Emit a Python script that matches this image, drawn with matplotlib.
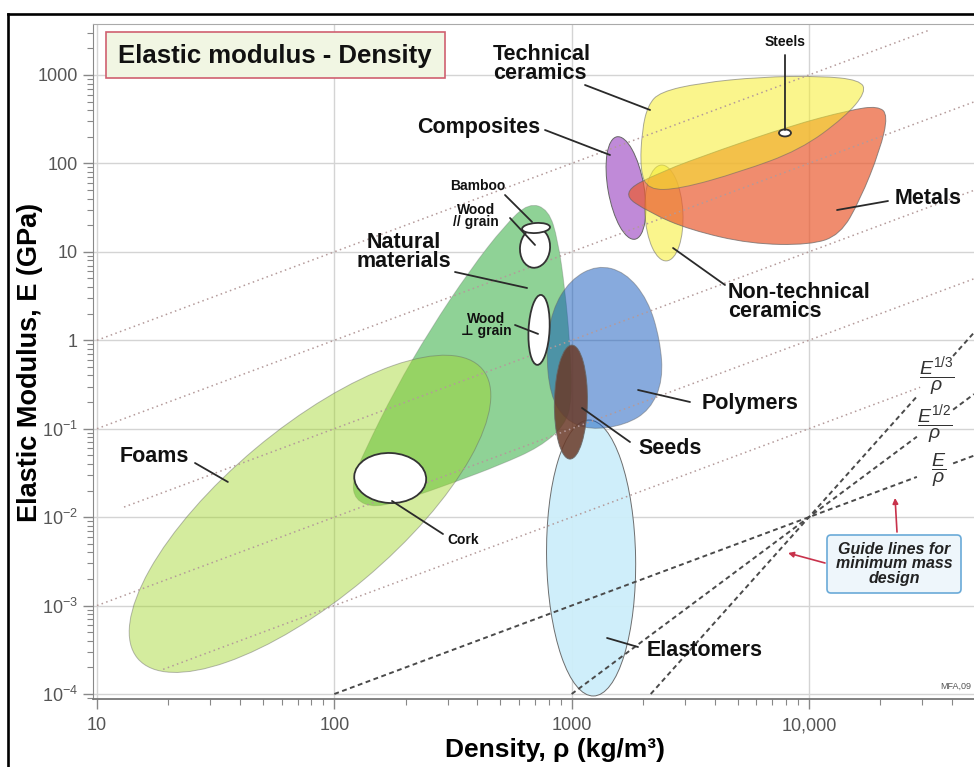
import matplotlib
matplotlib.use('Agg')
import matplotlib.pyplot as plt
import numpy as np
from matplotlib.path import Path
from matplotlib.patches import PathPatch, Ellipse, Rectangle, FancyBboxPatch
from matplotlib.lines import Line2D
from matplotlib.transforms import IdentityTransform
from matplotlib.ticker import FixedLocator, LogLocator, NullFormatter

plt.rcParams['font.family'] = ['Liberation Sans', 'DejaVu Sans']
plt.rcParams['mathtext.fontset'] = 'custom'
plt.rcParams['mathtext.rm'] = 'Liberation Sans'
plt.rcParams['mathtext.it'] = 'Liberation Sans:italic'
plt.rcParams['mathtext.bf'] = 'Liberation Sans:bold'

W, H = 974, 767

# ---- data: density rho (kg/m3), modulus E (GPa) ----
# elliptic families (centre of bubble)
ell_names = ['Foams', 'Elastomers', 'Seeds', 'Composites', 'Non-technical ceramics']
ell_rho = [79, 1208, 993, 1694, 2448]
ell_E = [0.0109, 3.45e-3, 0.200, 52.7, 27.5]

# white sub-families
white_names = ['Cork', 'Wood // grain', 'Bamboo', 'Wood ⊥ grain', 'Steels']
white_rho = [172, 701, 708, 729, 7925]
white_E = [0.0277, 11.1, 18.6, 1.31, 221]

# outlines of the irregular families
natural_rho = [660, 800, 876, 938, 985, 1004, 938, 736, 499, 323, 208, 149, 122, 119, 135, 180, 253, 373, 524]
natural_E = [36, 30, 13.6, 3.70, 0.885, 0.211, 0.110, 0.0621, 0.0389, 0.0250, 0.0165, 0.0127, 0.0156, 0.0263,
             0.0575, 0.274, 1.31, 6.24, 20.1]

polymer_rho = [1280, 1679, 2099, 2358, 2428, 2140, 1679, 1196, 938, 811, 780, 827, 985]
polymer_E = [7.10, 5.92, 2.86, 1.01, 0.356, 0.163, 0.110, 0.0967, 0.1255, 0.241, 0.777, 2.20, 4.81]

techcer_rho = [2358, 3477, 6221, 11140, 16420, 17400, 14190, 9174, 5124, 2862, 2099, 1943, 1980, 2099]
techcer_E = [642, 812, 949, 974, 878, 642, 335, 142, 80.0, 51.4, 50.1, 84.3, 239, 458]

metal_rho = [1600, 2358, 4221, 8326, 14900, 19560, 21540, 19940, 16420, 13530, 10110, 5647, 3155, 2140]
metal_E = [46.3, 80.0, 142, 265, 402, 446, 353, 142, 38.6, 15.5, 11.96, 12.3, 17.7, 27.5]

# guide lines E = c * rho (light dotted) and the minimum-mass lines through (1e4, 0.01)
dotted_c = [0.1, 0.01, 1e-3, 1e-4, 1e-5]
dotted_start = [10, 10, 13, 10, 19]
dotted_end = [31800, 49600, 49600, 49600, 29400]
guide_slope = [1, 2, 3]
guide_start = [100, 1000, 2154]

# ---- styles (pixel sizes of the elliptic bubbles) ----
ell_style = {
    'Foams': dict(a=225, b=85, ang=40, fc='#a0d528', alpha=0.45, z=1.2),
    'Elastomers': dict(a=44.5, b=138, ang=1, fc='#cdeefa', alpha=0.95, z=1.3),
    'Seeds': dict(a=16.5, b=57, ang=-1, fc='#6a3a28', alpha=0.85, z=1.5),
    'Composites': dict(a=18, b=52, ang=10, fc='#c08ad8', alpha=1.0, z=1.6),
    'Non-technical ceramics': dict(a=19, b=48, ang=3, fc='#f6ed2e', alpha=0.55, z=1.7),
}
white_size = [(36, 25, -3), (15, 20, -6), (14, 5, 4), (10.5, 35, -3), (6, 3.5, 0)]

fig = plt.figure(figsize=(W / 100, H / 100), dpi=100)
ax = fig.add_axes([93 / W, 68 / H, 881 / W, 675 / H])
ax.set_xscale('log')
ax.set_yscale('log')
ax.set_xlim(9.62, 49600)
ax.set_ylim(8.78e-5, 3770)
ax.set_autoscale_on(False)


def fp(x, y):
    # reference pixel (from top-left) -> figure pixels
    return (x, H - y)


def smooth_patch(rho, E, **kw):
    lx, ly = np.log10(rho), np.log10(E)
    mx = (lx + np.roll(lx, -1)) / 2
    my = (ly + np.roll(ly, -1)) / 2
    verts = [(mx[-1], my[-1])]
    codes = [Path.MOVETO]
    for i in range(len(lx)):
        verts += [(lx[i], ly[i]), (mx[i], my[i])]
        codes += [Path.CURVE3, Path.CURVE3]
    verts = 10 ** np.array(verts)
    return PathPatch(Path(verts, codes), **kw)


def bubble(rho, E, a, b, ang, **kw):
    cx, cy = ax.transData.transform((rho, E))
    return Ellipse((cx, cy), 2 * a, 2 * b, angle=ang, transform=IdentityTransform(), **kw)


edge = dict(ec=(0.4, 0.4, 0.4, 0.3), lw=0.7)

ax.add_patch(smooth_patch(natural_rho, natural_E, fc='#8fd296', zorder=1.1, **edge))
for name in ['Foams', 'Elastomers']:
    i = ell_names.index(name)
    s = ell_style[name]
    ax.add_patch(bubble(ell_rho[i], ell_E[i], s['a'], s['b'], s['ang'],
                        fc=s['fc'], alpha=s['alpha'], zorder=s['z'], **edge))
ax.add_patch(smooth_patch(polymer_rho, polymer_E, fc='#054fb9', alpha=0.48, zorder=1.4, **edge))
for name in ['Seeds', 'Composites', 'Non-technical ceramics']:
    i = ell_names.index(name)
    s = ell_style[name]
    ax.add_patch(bubble(ell_rho[i], ell_E[i], s['a'], s['b'], s['ang'],
                        fc=s['fc'], alpha=s['alpha'], zorder=s['z'], **edge))
ax.add_patch(smooth_patch(metal_rho, metal_E, fc='#ea5b30', alpha=0.7, zorder=1.8, **edge))
ax.add_patch(smooth_patch(techcer_rho, techcer_E, fc='#f6ed2e', alpha=0.55, zorder=1.9, **edge))

# guide lines
for c, r0, r1 in zip(dotted_c, dotted_start, dotted_end):
    r = np.array([r0, r1])
    ax.plot(r, c * r, color='#b49a9a', lw=1.1, ls=(0, (1, 2.2)), zorder=2.5)
for m, r0 in zip(guide_slope, guide_start):
    for a0, a1 in [(r0, 28500), (40500, 49600)]:
        r = np.array([a0, a1])
        ax.plot(r, 0.01 * (r / 1e4) ** m, color='#4a4a4a', lw=1.4, ls=(0, (2.5, 1.8)), zorder=2.6)

# white sub-families
for rho, E, (a, b, ang) in zip(white_rho, white_E, white_size):
    ax.add_patch(bubble(rho, E, a, b, ang, fc='white', ec='#333333', lw=1.3, zorder=3))

# axes styling
ax.xaxis.set_major_locator(FixedLocator([10, 100, 1000, 10000]))
ax.set_xticklabels(['10', '100', '1000', '10,000'])
ax.xaxis.set_minor_locator(LogLocator(base=10, subs=np.arange(2, 10)))
ax.xaxis.set_minor_formatter(NullFormatter())
ax.yaxis.set_major_locator(FixedLocator([1e-4, 1e-3, 1e-2, 1e-1, 1, 10, 100, 1000]))
ax.set_yticklabels([r'$\mathregular{10^{-4}}$', r'$\mathregular{10^{-3}}$', r'$\mathregular{10^{-2}}$',
                    r'$\mathregular{10^{-1}}$', '1', '10', '100', '1000'])
ax.yaxis.set_minor_locator(LogLocator(base=10, subs=np.arange(2, 10)))
ax.yaxis.set_minor_formatter(NullFormatter())
ax.tick_params(which='major', direction='out', length=7, width=1, color='#888888',
               labelcolor='#555555', labelsize=13)
ax.tick_params(which='minor', direction='out', length=4, width=0.8, color='#888888')
ax.tick_params(axis='x', which='major', pad=6)
ax.tick_params(axis='y', which='major', pad=4)
ax.grid(True, which='major', color='#d4d4d4', lw=1)
ax.set_axisbelow(True)
ax.spines['right'].set_visible(False)
ax.spines['top'].set_color('#aaaaaa')
ax.spines['left'].set_color('#888888')
ax.spines['bottom'].set_color('#777777')
ax.spines['bottom'].set_linewidth(1.3)

# outer black frame
fig.add_artist(Line2D([8, 8], [H - 14, 0], transform=IdentityTransform(), color='black', lw=1.9))
fig.add_artist(Line2D([8, W], [H - 14, H - 14], transform=IdentityTransform(), color='black', lw=1.9))

# axis titles
fig.text(30, H - 362, 'Elastic Modulus, E (GPa)', transform=IdentityTransform(), rotation=90,
         ha='center', va='center', fontsize=19.5, fontweight='bold')
fig.text(555, H - 750, 'Density, ρ (kg/m³)', transform=IdentityTransform(),
         ha='center', va='center', fontsize=19, fontweight='bold')

# title box
fig.add_artist(Rectangle(fp(106, 78), 339, 46, transform=IdentityTransform(),
                         fc='#f1f6e3', ec='#d06070', lw=1.2))
fig.text(*fp(275, 56), 'Elastic modulus - Density', transform=IdentityTransform(),
         ha='center', va='center', fontsize=18.5, fontweight='bold', color='#111111')

# family labels: text, position (ref px), size, alignment
labels = [
    ('Technical\nceramics', 493, 64, 15.5, 'left'),
    ('Composites', 417, 128, 15.5, 'left'),
    ('Steels', 785, 42, 10, 'center'),
    ('Metals', 895, 199, 15.5, 'left'),
    ('Non-technical\nceramics', 728, 302, 15.5, 'left'),
    ('Bamboo', 478, 186, 10, 'center'),
    ('Wood\n// grain', 476, 216, 10, 'center'),
    ('Natural\nmaterials', 404, 252, 15.5, 'center'),
    ('Wood\n⊥ grain', 486, 325, 10, 'center'),
    ('Polymers', 702, 403, 15.5, 'left'),
    ('Seeds', 638, 449, 15.5, 'left'),
    ('Foams', 120, 457, 15.5, 'left'),
    ('Cork', 447, 540, 10, 'left'),
    ('Elastomers', 647, 651, 15.5, 'left'),
]
for txt, x, y, fs, ha in labels:
    ax.text(*fp(x, y), txt, transform=IdentityTransform(), ha=ha, va='center', ma=ha,
            fontsize=fs, fontweight='bold', color='#111111', linespacing=0.82, zorder=5)

# leader lines: start (ref px) -> target (data)
leaders = [
    ((585, 85), (2140, 402)),
    ((545, 130), (1451, 124.5)),
    ((785, 55), (7925, 239)),
    ((888, 201), (13130, 29.7)),
    ((725, 285), (2675, 11.05)),
    ((505, 195), (681, 21.8)),
    ((510, 218), (701, 11.96)),
    ((455, 272), (649, 3.90)),
    ((515, 325), (722, 1.18)),
    ((690, 402), (1905, 0.274)),
    ((630, 442), (1106, 0.1715)),
    ((195, 463), (35.6, 0.0250)),
    ((443, 534), (175, 0.01523)),
    ((638, 647), (1410, 4.30e-4)),
]
for start, target in leaders:
    ax.annotate('', xy=target, xytext=fp(*start), textcoords='figure pixels',
                arrowprops=dict(arrowstyle='-', color='#2a2a2a', lw=1.3, shrinkA=0, shrinkB=0),
                zorder=4)

# guide line labels
for txt, x, y in [(r'$\dfrac{E^{1/3}}{\rho}$', 937, 376), (r'$\dfrac{E^{1/2}}{\rho}$', 935, 424),
                  (r'$\dfrac{E}{\rho}$', 939, 470)]:
    ax.text(*fp(x, y), txt, transform=IdentityTransform(), ha='center', va='center',
            fontsize=14, color='#333333', zorder=5)

# guide lines box + red arrows
ax.add_patch(FancyBboxPatch(fp(827, 593), 134, 58, boxstyle='round,pad=0,rounding_size=4',
                            transform=IdentityTransform(), fc='#eef6fb', ec='#6aaad8', lw=1.2,
                            clip_on=False, zorder=5))
ax.text(*fp(894, 564), 'Guide lines for\nminimum mass\ndesign', transform=IdentityTransform(),
        ha='center', va='center', fontsize=11.5, fontweight='bold', fontstyle='italic',
        color='#222222', linespacing=0.95, zorder=6)
for start, target in [((897, 532), (23060, 0.01647)), ((825, 563), (8166, 3.93e-3))]:
    ax.annotate('', xy=target, xytext=fp(*start), textcoords='figure pixels',
                arrowprops=dict(arrowstyle='-|>', color='#c8324b', lw=1.2, mutation_scale=8,
                                shrinkA=0, shrinkB=0), zorder=6)

ax.text(*fp(940, 686), 'MFA,09', transform=IdentityTransform(), ha='left', va='center',
        fontsize=6.5, color='#555555', zorder=5)

fig.savefig('out.png', dpi=100)
